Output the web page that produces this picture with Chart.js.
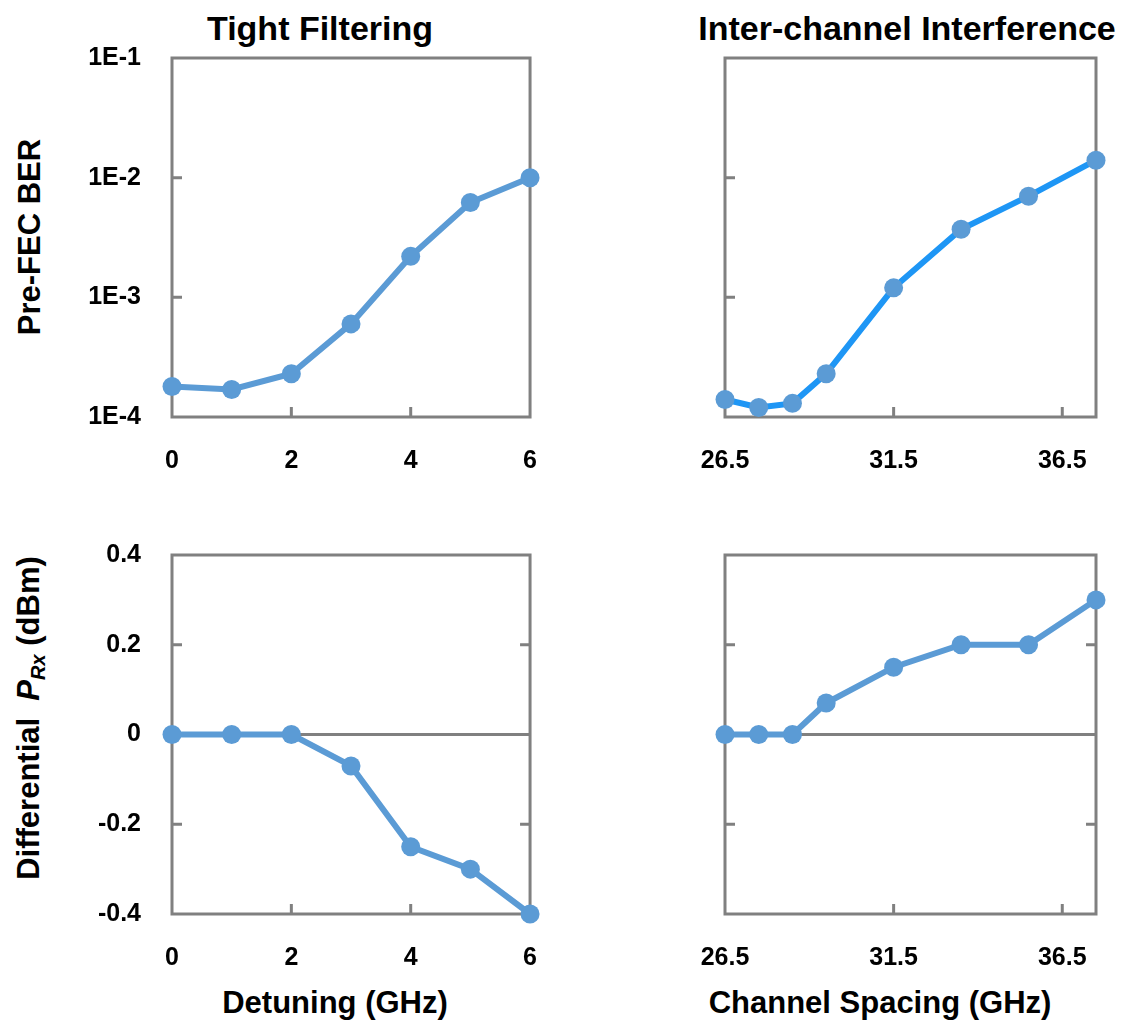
<!DOCTYPE html>
<html>
<head>
<meta charset="utf-8">
<script src="https://cdn.jsdelivr.net/npm/chart.js@4.4.1/dist/chart.umd.min.js"></script>
<style>
  html, body { margin: 0; padding: 0; background: #fff; }
  body { width: 1132px; height: 1023px; position: relative; overflow: hidden;
         font-family: "Liberation Sans", Arial, sans-serif; font-weight: bold; color: #000; }
  canvas { position: absolute; }
  .lbl { position: absolute; white-space: nowrap; transform: translate(-50%, -50%); }
  .title { font-size: 34px; }
  .axis { font-size: 31px; }
  .rot { transform: translate(-50%, -50%) rotate(-90deg); }
  sub { font-size: 20px; vertical-align: -6px; }
</style>
</head>
<body>
<div class="lbl title" style="left:320px; top:28px;">Tight Filtering</div>
<div class="lbl title" style="left:907px; top:28px;">Inter-channel Interference</div>
<div class="lbl axis rot" style="left:30px; top:237px;">Pre-FEC BER</div>
<div class="lbl axis rot" style="left:30px; top:718px;">Differential&nbsp;&nbsp;<i>P</i><sub><i>Rx</i></sub> (dBm)</div>
<div class="lbl axis" style="left:335px; top:1003px;">Detuning (GHz)</div>
<div class="lbl axis" style="left:880px; top:1003px;">Channel Spacing (GHz)</div>

<canvas id="tl" width="566" height="480" style="left:0; top:10px;"></canvas>
<canvas id="tr" width="566" height="480" style="left:566px; top:10px;"></canvas>
<canvas id="bl" width="566" height="490" style="left:0; top:490px;"></canvas>
<canvas id="br" width="566" height="490" style="left:566px; top:490px;"></canvas>

<script>
// data
const detuning = [0, 1, 2, 3, 4, 5, 6];
const spacing = [26.5, 27.5, 28.5, 29.5, 31.5, 33.5, 35.5, 37.5];
const berTight = [1.8e-4, 1.7e-4, 2.3e-4, 6.0e-4, 2.2e-3, 6.2e-3, 1.0e-2];
const berIci = [1.4e-4, 1.2e-4, 1.3e-4, 2.3e-4, 1.2e-3, 3.7e-3, 7.0e-3, 1.4e-2];
const prxTight = [0, 0, 0, -0.07, -0.25, -0.30, -0.40];
const prxIci = [0, 0, 0, 0.07, 0.15, 0.20, 0.20, 0.30];

// tick labels
const detuningTicks = [0, 2, 4, 6];
const spacingTicks = [26.5, 31.5, 36.5];
const berTicks = [1e-4, 1e-3, 1e-2, 1e-1];
const prxTicks = [-0.4, -0.2, 0, 0.2, 0.4];

const MARKER = '#5B9BD5';
const AXIS_COLOR = '#808080';
const FONT = { family: "'Liberation Sans', Arial, sans-serif", size: 25, weight: 'bold' };

const framePlugin = {
  id: 'frame',
  beforeDatasetsDraw(chart, args, opts) {
    const { ctx, chartArea: a, scales: { x, y } } = chart;
    ctx.save();
    ctx.strokeStyle = AXIS_COLOR;
    ctx.lineWidth = 3;
    ctx.strokeRect(a.left, a.top, a.right - a.left, a.bottom - a.top);
    ctx.beginPath();
    opts.xMarks.forEach((v) => {
      const px = x.getPixelForValue(v);
      ctx.moveTo(px, a.bottom);
      ctx.lineTo(px, a.bottom - 10);
    });
    opts.yMarks.forEach((v) => {
      const py = y.getPixelForValue(v);
      ctx.moveTo(a.left, py);
      ctx.lineTo(a.left + 10, py);
      if (opts.both) {
        ctx.moveTo(a.right, py);
        ctx.lineTo(a.right - 10, py);
      }
    });
    if (opts.zero) {
      const pz = y.getPixelForValue(0);
      ctx.moveTo(a.left, pz);
      ctx.lineTo(a.right, pz);
    }
    ctx.stroke();
    ctx.restore();
  },
};

function makePanel(id, cfg) {
  const fixedTicks = (list) => (scale) => {
    scale.ticks = list.map((v) => ({ value: v }));
  };
  return new Chart(document.getElementById(id), {
    type: 'line',
    data: {
      datasets: [{
        data: cfg.xs.map((v, i) => ({ x: v, y: cfg.ys[i] })),
        borderColor: cfg.lineColor,
        borderWidth: 6,
        pointRadius: 9.5,
        pointBackgroundColor: MARKER,
        pointBorderWidth: 0,
        tension: 0,
        clip: false,
      }],
    },
    plugins: [framePlugin],
    options: {
      responsive: false,
      animation: false,
      events: [],
      layout: { padding: { top: cfg.padTop, right: cfg.padRight, left: 0, bottom: 0 } },
      plugins: {
        legend: { display: false },
        tooltip: { enabled: false },
        frame: { xMarks: cfg.xMarks, yMarks: cfg.yMarks, both: cfg.both, zero: cfg.zero },
      },
      scales: {
        x: {
          type: 'linear',
          min: cfg.xMin,
          max: cfg.xMax,
          grid: { display: false, drawTicks: false },
          border: { display: false },
          afterBuildTicks: fixedTicks(cfg.xTicks),
          afterFit(scale) { scale.height = cfg.xHeight; },
          ticks: { font: FONT, color: '#000', padding: 29, maxRotation: 0, autoSkip: false,
                   callback: (v) => String(v) },
        },
        y: {
          type: cfg.yType,
          min: cfg.yMin,
          max: cfg.yMax,
          grid: { display: false, drawTicks: false },
          border: { display: false },
          afterBuildTicks: fixedTicks(cfg.yTicks),
          afterFit(scale) { scale.width = cfg.yWidth; },
          ticks: { display: cfg.yLabels, font: FONT, color: '#000', padding: 31, autoSkip: false,
                   callback: cfg.yFormat },
        },
      },
    },
  });
}

const berFormat = (v) => '1E' + Math.round(Math.log10(v));
const prxFormat = (v) => String(Math.round(v * 10) / 10);

makePanel('tl', {
  xs: detuning, ys: berTight, lineColor: MARKER,
  xMin: 0, xMax: 6, xTicks: detuningTicks, xMarks: [2, 4],
  yType: 'logarithmic', yMin: 1e-4, yMax: 1e-1, yTicks: berTicks, yMarks: [1e-3, 1e-2],
  yLabels: true, yFormat: berFormat, yWidth: 172, xHeight: 73, padTop: 48, padRight: 24,
  both: false, zero: false,
});
makePanel('tr', {
  xs: spacing, ys: berIci, lineColor: '#1E96F5',
  xMin: 26.5, xMax: 37.5, xTicks: spacingTicks, xMarks: [31.5, 36.5],
  yType: 'logarithmic', yMin: 1e-4, yMax: 1e-1, yTicks: berTicks, yMarks: [1e-3, 1e-2],
  yLabels: false, yFormat: berFormat, yWidth: 159, xHeight: 73, padTop: 48, padRight: 36,
  both: false, zero: false,
});
makePanel('bl', {
  xs: detuning, ys: prxTight, lineColor: MARKER,
  xMin: 0, xMax: 6, xTicks: detuningTicks, xMarks: [2, 4],
  yType: 'linear', yMin: -0.4, yMax: 0.4, yTicks: prxTicks, yMarks: [-0.2, 0.2],
  yLabels: true, yFormat: prxFormat, yWidth: 172, xHeight: 66, padTop: 65, padRight: 24,
  both: true, zero: true,
});
makePanel('br', {
  xs: spacing, ys: prxIci, lineColor: MARKER,
  xMin: 26.5, xMax: 37.5, xTicks: spacingTicks, xMarks: [31.5, 36.5],
  yType: 'linear', yMin: -0.4, yMax: 0.4, yTicks: prxTicks, yMarks: [-0.2, 0.2],
  yLabels: false, yFormat: prxFormat, yWidth: 159, xHeight: 66, padTop: 65, padRight: 36,
  both: true, zero: true,
});
</script>
</body>
</html>
